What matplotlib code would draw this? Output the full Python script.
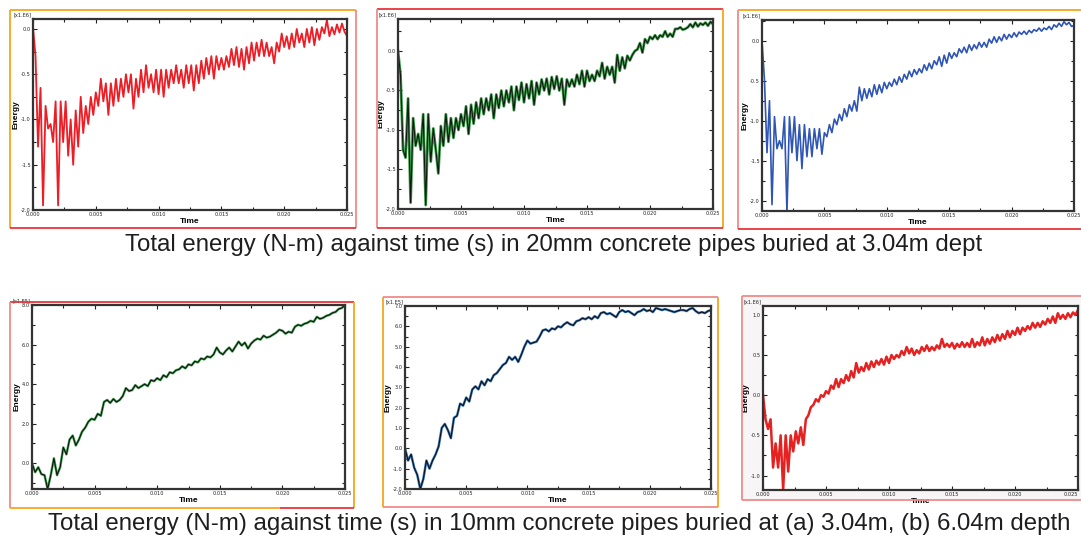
import numpy as np
import matplotlib
matplotlib.use("Agg")
import matplotlib.pyplot as plt
from matplotlib.lines import Line2D
from matplotlib.ticker import MultipleLocator, FormatStrFormatter

# ---------------- data (Energy in units of 1e6) ----------------
T_END = 0.025
time_ticks = [0.000, 0.005, 0.010, 0.015, 0.020, 0.025]
time_tick_labels = ["0.000", "0.005", "0.010", "0.015", "0.020", "0.025"]

energy_a1 = [0.02, -0.3, -1.3, -0.65, -1.95, -0.85, -1.1, -1.05, -1.25, -0.8,
             -1.95, -0.8, -1.25, -0.8, -1.4, -1.0, -1.5, -0.9, -1.3, -0.75,
             -1.15, -0.85, -1.05, -0.75, -0.95, -0.7, -0.85, -0.55, -0.8, -0.6,
             -0.95, -0.6, -0.85, -0.55, -0.8, -0.55, -0.75, -0.5, -0.7, -0.5,
             -0.88, -0.55, -0.75, -0.45, -0.7, -0.4, -0.65, -0.5, -0.7, -0.45,
             -0.72, -0.45, -0.75, -0.45, -0.65, -0.45, -0.6, -0.4, -0.6, -0.45,
             -0.65, -0.4, -0.6, -0.4, -0.68, -0.4, -0.6, -0.35, -0.55, -0.32,
             -0.5, -0.3, -0.55, -0.3, -0.45, -0.32, -0.45, -0.3, -0.42, -0.22,
             -0.4, -0.2, -0.42, -0.22, -0.45, -0.2, -0.38, -0.15, -0.35, -0.15,
             -0.3, -0.12, -0.3, -0.15, -0.3, -0.2, -0.38, -0.15, -0.25, -0.05,
             -0.2, -0.08, -0.22, -0.05, -0.2, 0.0, -0.15, -0.05, -0.2, 0.0,
             -0.15, 0.02, -0.18, 0.0, -0.12, 0.02, -0.05, 0.1, -0.08, 0.02,
             -0.06, 0.05, -0.04, 0.06, -0.03, -0.08]

energy_a2 = [0.0, -0.3, -1.25, -1.35, -0.6, -1.92, -0.85, -1.2, -1.05, -1.25,
             -0.8, -1.95, -0.8, -1.4, -0.98, -1.25, -1.55, -0.95, -1.2, -0.8,
             -1.15, -0.85, -1.1, -0.85, -1.0, -0.8, -0.95, -0.7, -1.05, -0.68,
             -0.92, -0.65, -0.85, -0.6, -0.8, -0.6, -0.75, -0.55, -0.85, -0.55,
             -0.72, -0.5, -0.7, -0.5, -0.65, -0.45, -0.75, -0.45, -0.62, -0.4,
             -0.65, -0.42, -0.6, -0.38, -0.68, -0.4, -0.55, -0.36, -0.5, -0.35,
             -0.55, -0.33, -0.48, -0.32, -0.5, -0.35, -0.68, -0.36, -0.45, -0.36,
             -0.45, -0.3, -0.42, -0.25, -0.45, -0.25, -0.38, -0.3, -0.38, -0.25,
             -0.32, -0.15, -0.35, -0.2, -0.3, -0.2, -0.4, -0.05, -0.25, -0.08,
             -0.22, -0.06, -0.12, -0.05, 0.0, 0.02, 0.1, -0.02, 0.15, 0.1,
             0.18, 0.15, 0.2, 0.15, 0.2, 0.18, 0.25, 0.18, 0.22, 0.18,
             0.28, 0.28, 0.3, 0.27, 0.28, 0.3, 0.34, 0.3, 0.36, 0.31,
             0.35, 0.33, 0.36, 0.32, 0.37, 0.34]

energy_a3 = [0.0, -0.5, -1.4, -0.75, -2.05, -0.95, -1.35, -1.25, -1.35, -0.95,
             -2.15, -0.95, -1.4, -0.95, -1.5, -1.05, -1.6, -1.05, -1.45, -1.1,
             -1.45, -1.1, -1.35, -1.1, -1.42, -1.15, -1.2, -1.05, -1.15, -0.98,
             -1.05, -0.92, -1.0, -0.85, -0.95, -0.8, -0.88, -0.75, -0.88, -0.58,
             -0.75, -0.6, -0.72, -0.6, -0.7, -0.55, -0.67, -0.55, -0.65, -0.52,
             -0.6, -0.52, -0.57, -0.48, -0.55, -0.45, -0.52, -0.42, -0.48, -0.38,
             -0.45, -0.36, -0.42, -0.35, -0.4, -0.3, -0.37, -0.28, -0.35, -0.25,
             -0.3, -0.2, -0.32, -0.18, -0.28, -0.15, -0.22, -0.15, -0.2, -0.1,
             -0.15, -0.08, -0.15, -0.05, -0.12, -0.05, -0.1, -0.02, -0.08, -0.02,
             -0.08, 0.02, -0.03, 0.05, -0.02, 0.05, 0.0, 0.08, 0.02, 0.08,
             0.04, 0.1, 0.05, 0.11, 0.08, 0.12, 0.08, 0.13, 0.1, 0.14,
             0.12, 0.16, 0.12, 0.16, 0.14, 0.18, 0.14, 0.2, 0.17, 0.22,
             0.18, 0.24, 0.2, 0.23, 0.18, 0.19]

energy_b1 = [0.0, -0.45, -0.2, -0.55, -0.6, -1.3, -0.6, 0.25, -0.6, -0.2,
             0.8, 0.45, 1.2, 1.4, 0.9, 1.2, 1.6, 1.8, 2.1, 2.25,
             2.2, 2.5, 2.4, 3.1, 3.2, 3.05, 3.25, 3.1, 3.2, 3.4,
             3.8, 3.65, 3.7, 3.95, 3.8, 3.9, 4.0, 3.9, 4.2, 4.15,
             4.3, 4.2, 4.45, 4.35, 4.6, 4.55, 4.7, 4.75, 4.9, 4.8,
             5.0, 4.95, 5.15, 5.1, 5.3, 5.25, 5.4, 5.35, 5.5, 5.85,
             5.6, 5.5, 5.7, 5.85, 5.65, 5.9, 6.15, 5.95, 6.1, 5.8,
             6.05, 6.2, 6.3, 6.25, 6.45, 6.35, 6.4, 6.5, 6.6, 6.75,
             6.7, 6.55, 6.65, 6.6, 6.9, 7.0, 6.95, 7.05, 7.1, 7.2,
             7.15, 7.4, 7.3, 7.35, 7.45, 7.5, 7.6, 7.65, 7.8, 7.85, 8.0]

energy_b2 = [0.0, -0.6, -0.3, -0.95, -1.3, -2.0, -1.5, -0.6, -1.0, -0.6,
             -0.3, 0.1, 1.0, 1.2, 0.9, 0.5, 1.5, 1.6, 2.2, 2.1,
             2.5, 2.3, 2.9, 3.05, 2.9, 3.3, 3.1, 3.4, 3.3, 3.6,
             3.7, 3.9, 4.1, 4.2, 4.5, 4.35, 4.5, 4.25, 4.6, 5.0,
             5.3, 5.15, 5.2, 5.25, 5.5, 5.8, 5.85, 5.75, 5.9, 5.85,
             6.0, 5.95, 6.1, 6.2, 6.1, 6.05, 6.25, 6.3, 6.4, 6.35,
             6.45, 6.35, 6.5, 6.4, 6.65, 6.7, 6.6, 6.65, 6.55, 6.45,
             6.7, 6.8, 6.7, 6.75, 6.65, 6.55, 6.7, 6.75, 6.85, 6.75,
             6.8, 6.7, 6.9, 6.85, 6.8, 6.85, 6.8, 6.75, 6.7, 6.75,
             6.8, 6.8, 6.75, 6.85, 6.9, 6.75, 6.65, 6.7, 6.65, 6.75, 6.8]

energy_b3 = [0.0, -0.3, -0.42, -0.3, -0.9, -0.6, -0.9, -0.5, -1.18, -0.5,
             -0.95, -0.5, -0.7, -0.45, -0.6, -0.4, -0.62, -0.3, -0.25, -0.15,
             -0.12, -0.05, -0.08, 0.0, -0.02, 0.05, 0.02, 0.12, 0.08, 0.2,
             0.1, 0.2, 0.15, 0.25, 0.18, 0.3, 0.22, 0.4, 0.28, 0.35,
             0.3, 0.4, 0.32, 0.42, 0.35, 0.43, 0.38, 0.45, 0.38, 0.48,
             0.4, 0.5, 0.45, 0.5, 0.47, 0.55, 0.5, 0.6, 0.52, 0.58,
             0.5, 0.56, 0.52, 0.6, 0.55, 0.62, 0.55, 0.6, 0.56, 0.62,
             0.58, 0.7, 0.6, 0.64, 0.6, 0.65, 0.58, 0.64, 0.6, 0.66,
             0.6, 0.65, 0.6, 0.7, 0.6, 0.66, 0.62, 0.72, 0.62, 0.7,
             0.64, 0.72, 0.66, 0.75, 0.68, 0.76, 0.7, 0.8, 0.72, 0.8,
             0.75, 0.84, 0.76, 0.84, 0.8, 0.86, 0.82, 0.9, 0.84, 0.9,
             0.85, 0.92, 0.88, 0.95, 0.9, 0.98, 0.9, 1.02, 0.95, 1.0,
             0.95, 1.02, 0.97, 1.03, 1.0, 1.06]

captions = ["Total energy (N-m) against time (s) in 20mm concrete pipes buried at 3.04m dept",
            "Total energy (N-m) against time (s) in 10mm concrete pipes buried at (a) 3.04m, (b) 6.04m depth"]
multiplier_labels = ["[x1.E6]", "[x1.E6]", "[x1.E6]", "[x1.E5]", "[x1.E5]", "[x1.E6]"]

# ---------------- layout ----------------
W, H = 1081, 541
fig = plt.figure(figsize=(W / 100, H / 100), dpi=100)
fig.patch.set_facecolor("white")


def fx(px):
    return px / W


def fy(py):
    return 1 - py / H


ORANGE = "#f7a51c"
RED = "#e8353a"
PINK = "#f08a8a"


def seg(x0, y0, x1, y1, color, lw=1.3):
    fig.add_artist(Line2D([fx(x0), fx(x1)], [fy(y0), fy(y1)], color=color, lw=lw,
                          transform=fig.transFigure, solid_capstyle="butt"))


def border(box, top, left, right, bottom):
    x0, y0, x1, y1 = box
    if top:
        seg(x0, y0, x1, y0, top)
    if left:
        seg(x0, y0, x0, y1, left)
    if right:
        seg(x1, y0, x1, y1, right)
    if bottom:
        if isinstance(bottom, tuple):
            xs = bottom[1]
            seg(x0, y1, xs, y1, bottom[0])
            seg(xs, y1, x1, y1, bottom[2])
        else:
            seg(x0, y1, x1, y1, bottom)


# panel 6 scanned-look background
fig.add_artist(plt.Rectangle((fx(742), fy(500)), fx(1081) - fx(742), fy(296) - fy(500),
                             transform=fig.transFigure, facecolor="#f7f5f5", edgecolor="none", zorder=0))

border((10, 10, 356, 228), ORANGE, ORANGE, PINK, RED)
border((377, 9, 723, 228), RED, PINK, ORANGE, RED)
border((738, 10, 1081, 229), ORANGE, PINK, None, RED)
border((10, 302, 354, 508), RED, PINK, ORANGE, (ORANGE, 280, RED))
border((383, 297, 718, 507), PINK, ORANGE, ORANGE, PINK)
border((742, 296, 1081, 500), PINK, PINK, None, PINK)

panels = [
    # (axes px box x0,y0,x1,y1), data, ylim, ymajor, fmt, line style
    ((33, 19, 347, 210), energy_a1, (-2.0, 0.11), 0.5, "%.1f", "a1"),
    ((398, 19, 713, 209), energy_a2, (-2.0, 0.405), 0.5, "%.1f", "a2"),
    ((762, 20, 1074, 211), energy_a3, (-2.13, 0.26), 0.5, "%.1f", "a3"),
    ((32, 305, 345, 489), energy_b1, (-1.3, 8.0), 2.0, "%.1f", "b1"),
    ((405, 306, 711, 489), energy_b2, (-2.0, 7.0), 1.0, "%.1f", "b2"),
    ((763, 306, 1078, 490), energy_b3, (-1.18, 1.11), 0.5, "%.1f", "b3"),
]

for i, (box, vals, ylim, ymaj, fmt, key) in enumerate(panels):
    x0, y0, x1, y1 = box
    ax = fig.add_axes([fx(x0), fy(y1), fx(x1) - fx(x0), fy(y0) - fy(y1)])
    vals = np.asarray(vals)
    t = np.linspace(0, T_END, len(vals))
    if key == "a1":
        ax.plot(t, vals, color="#ee1c24", lw=1.3)
    elif key == "a2":
        ax.plot(t, vals, color="#3aa04a", lw=2.0)
        ax.plot(t, vals, color="#101810", lw=0.8)
    elif key == "a3":
        ax.plot(t, vals, color="#2f55b5", lw=1.2)
    elif key == "b1":
        ax.plot(t, vals, color="#4aa85a", lw=1.8)
        ax.plot(t, vals, color="#0c140c", lw=0.8)
    elif key == "b2":
        ax.plot(t, vals, color="#3f7ab5", lw=1.8)
        ax.plot(t, vals, color="#0a0f1e", lw=0.8)
    else:
        ax.plot(t, vals, color="#e52222", lw=1.8)
    ax.set_xlim(0, T_END)
    ax.set_ylim(*ylim)
    ax.set_xticks(time_ticks, labels=time_tick_labels)
    ax.xaxis.set_minor_locator(MultipleLocator(0.0025))
    ax.yaxis.set_major_locator(MultipleLocator(ymaj))
    ax.yaxis.set_minor_locator(MultipleLocator(ymaj / 2))
    ax.yaxis.set_major_formatter(FormatStrFormatter(fmt))
    ax.tick_params(which="both", direction="in", top=True, right=True, length=3,
                   width=0.8, labelsize=3.6, pad=1.5, colors="#222222")
    ax.tick_params(which="minor", length=2)
    for s in ax.spines.values():
        s.set_linewidth(1.6)
        s.set_color("#333333")
    ax.set_facecolor("white")
    ax.set_xlabel("Time", fontsize=6, fontweight="bold", labelpad=1,
                  family=["Liberation Sans", "DejaVu Sans"])
    ax.set_ylabel("Energy", fontsize=6, fontweight="bold", labelpad=1,
                  family=["Liberation Sans", "DejaVu Sans"])
    ax.text(-0.005, 1.01, multiplier_labels[i], transform=ax.transAxes, fontsize=3.6,
            ha="right", va="bottom", color="#222222")
    if key == "b3":
        plt.setp(ax.get_xticklabels()[-1], ha="right")

fig.text(fx(554), fy(245), captions[0], ha="center", va="center", fontsize=17.3,
         color="#1e1e1e", family=["Liberation Sans", "DejaVu Sans"])
fig.text(fx(559), fy(524), captions[1], ha="center", va="center", fontsize=17.3,
         color="#1e1e1e", family=["Liberation Sans", "DejaVu Sans"])

fig.savefig("out.png", dpi=100)
